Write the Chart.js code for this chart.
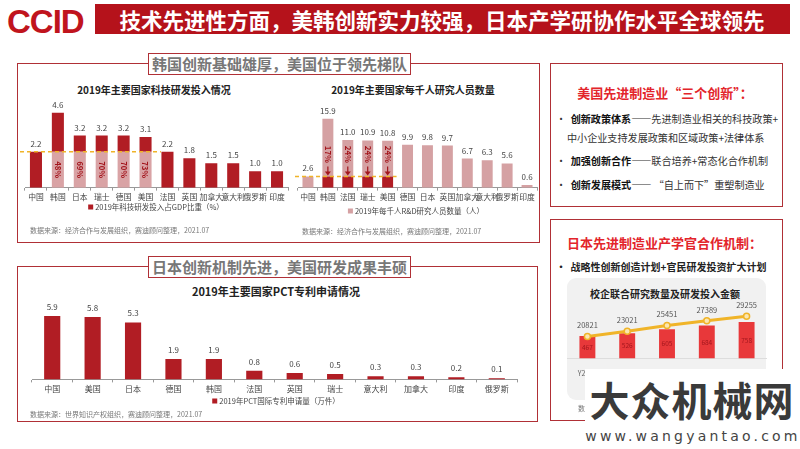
<!DOCTYPE html>
<html lang="zh">
<head>
<meta charset="UTF-8">
<title>技术先进性方面</title>
<script src="https://cdn.jsdelivr.net/npm/chart.js"></script>
<style>
  html, body { margin: 0; padding: 0; background: #fff; }
  body { width: 800px; height: 449px; position: relative; overflow: hidden;
         font-family: "Noto Sans CJK SC", "Noto Sans", sans-serif; color: #333; }
  .abs { position: absolute; white-space: nowrap; }
  .c { transform: translate(-50%, -50%); }
  .l { transform: translateY(-50%); }
  .panel { position: absolute; border: 1px solid #b03036; box-sizing: border-box; }
  .tag { position: absolute; border: 1px solid #b03036; background: #fff; color: #777;
         font-size: 15px; font-weight: bold; line-height: 20px; padding: 0 3px; white-space: nowrap; }
  .ctitle { font-size: 10px; font-weight: bold; color: #222; }
  .legend { font-size: 7.5px; color: #444; }
  .legend i { display: inline-block; width: 5px; height: 5px; margin-right: 2px; vertical-align: 0; }
  .src { font-size: 7px; color: #777; }
  .txt { font-size: 10.1px; color: #333; }
  .txt b { color: #111; }
  canvas { position: absolute; }
</style>
</head>
<body>
<div class="abs" style="left:7px;top:3px;font-family:'Liberation Sans',sans-serif;font-weight:bold;font-size:33px;color:#c0141d;letter-spacing:-1px;">CCID</div>
<div class="abs" style="left:95px;top:4px;width:695px;height:30px;background:#b5121b;"></div>
<div class="abs c" style="left:442px;top:19px;color:#fff;font-size:21.5px;font-weight:bold;">技术先进性方面，美韩创新实力较强，日本产学研协作水平全球领先</div>

<!-- upper left panel -->
<div class="panel" style="left:17px;top:63px;width:523px;height:180px;"></div>
<div class="tag" style="left:148px;top:53px;">韩国创新基础雄厚，美国位于领先梯队</div>
<div class="abs c ctitle" style="left:154px;top:89px;">2019年主要国家科技研发投入情况</div>
<div class="abs c ctitle" style="left:413px;top:89px;">2019年主要国家每千人研究人员数量</div>
<canvas id="rdChart" width="278" height="106" style="left:15px;top:98px;"></canvas>
<canvas id="resChart" width="250" height="103" style="left:290px;top:101px;"></canvas>
<div class="abs c legend" style="left:156px;top:206px;"><i style="background:#b11d24"></i>2019年科技研发投入占GDP比重（%）</div>
<div class="abs c legend" style="left:416px;top:210px;"><i style="background:#d5a1a3"></i>2019年每千人R&amp;D研究人员数量（人）</div>
<div class="abs l src" style="left:30px;top:230px;">数据来源：经济合作与发展组织，赛迪顾问整理，2021.07</div>
<div class="abs l src" style="left:302px;top:231px;">数据来源：经济合作与发展组织，赛迪顾问整理，2021.07</div>

<!-- lower left panel -->
<div class="panel" style="left:17px;top:266px;width:521px;height:156px;"></div>
<div class="tag" style="left:148px;top:256px;">日本创新机制先进，美国研发成果丰硕</div>
<div class="abs c ctitle" style="left:276px;top:291px;font-size:11px;">2019年主要国家PCT专利申请情况</div>
<canvas id="pctChart" width="505" height="94" style="left:20px;top:302px;"></canvas>
<div class="abs c legend" style="left:276px;top:400px;"><i style="background:#b11d24"></i>2019年PCT国际专利申请量（万件）</div>
<div class="abs l src" style="left:30px;top:414px;">数据来源：世界知识产权组织，赛迪顾问整理，2021.07</div>

<!-- right panels -->
<div class="panel" style="left:550px;top:63px;width:233px;height:144px;"></div>
<div class="abs c" style="left:665px;top:92px;color:#e3252b;font-size:13px;font-weight:bold;">美国先进制造业“三个创新”：</div>
<div class="abs l txt" style="left:556px;top:118px;">•&nbsp; <b>创新政策体系</b>——先进制造业相关的科技政策+</div>
<div class="abs l txt" style="left:567px;top:137px;">中小企业支持发展政策和区域政策+法律体系</div>
<div class="abs l txt" style="left:556px;top:160px;">•&nbsp; <b>加强创新合作</b>——联合培养+常态化合作机制</div>
<div class="abs l txt" style="left:556px;top:184px;">•&nbsp; <b>创新发展模式</b>—— “自上而下”重塑制造业</div>

<div class="panel" style="left:550px;top:219px;width:233px;height:202px;"></div>
<div class="abs l" style="left:567px;top:242px;color:#e3252b;font-size:13px;font-weight:bold;">日本先进制造业产学官合作机制：</div>
<div class="abs l" style="left:556px;top:266px;font-size:10px;font-weight:bold;color:#222;">•&nbsp; 战略性创新创造计划+官民研发投资扩大计划</div>
<div class="abs" style="left:567px;top:278px;width:199px;height:122px;background:#f1f1f1;border-radius:9px;"></div>
<div class="abs c" style="left:665px;top:293px;font-size:10px;font-weight:bold;color:#222;">校企联合研究数量及研发投入金额</div>
<canvas id="jpChart" width="210" height="80" style="left:562px;top:301px;"></canvas>
<div class="abs l src" style="left:578px;top:408px;">数据来源：日本文部科学省，赛迪顾问整理</div>

<!-- watermark -->
<div class="abs" style="left:585px;top:369px;width:215px;height:80px;background:#fff;"></div>
<div class="abs c" style="left:692px;top:399px;font-size:40px;font-weight:bold;color:#3a3a3a;letter-spacing:1px;">大众机械网</div>
<div class="abs c" style="left:693px;top:436px;font-size:14px;color:#444;letter-spacing:3.2px;font-family:'DejaVu Sans',sans-serif;">www.wangyantao.com</div>

<script>
// ---- data ----
const rdCountries = ['中国', '韩国', '日本', '瑞士', '德国', '美国', '法国', '英国', '加拿大', '意大利', '俄罗斯', '印度'];
const rdShare = [2.2, 4.6, 3.2, 3.2, 3.2, 3.1, 2.2, 1.8, 1.5, 1.5, 1.0, 1.0];
const rdCompareIdx = [1, 2, 3, 4, 5];
const rdCompareText = ['48%', '69%', '70%', '70%', '73%'];

const resCountries = ['中国', '韩国', '法国', '瑞士', '美国', '德国', '日本', '英国', '加拿大', '意大利', '俄罗斯', '印度'];
const resPerThousand = [2.6, 15.9, 11.0, 10.9, 10.8, 9.9, 9.8, 9.7, 6.7, 6.3, 5.6, 0.6];
const resCompareIdx = [1, 2, 3, 4];
const resCompareText = ['17%', '24%', '24%', '24%'];

const pctCountries = ['中国', '美国', '日本', '德国', '韩国', '法国', '英国', '瑞士', '意大利', '加拿大', '印度', '俄罗斯'];
const pctApps = [5.9, 5.8, 5.3, 1.9, 1.9, 0.8, 0.6, 0.5, 0.3, 0.3, 0.2, 0.1];

const jpYears = ['Y2015', 'Y2016', 'Y2017', 'Y2018', 'Y2019'];
const jpProjects = [20821, 23021, 25451, 27389, 29255];
const jpSpending = [467, 526, 605, 684, 758];

const DARK = '#b11d24', PINK1 = '#d9a3a5', PINK2 = '#d5a1a3', GOLD = '#f0b429';
const FONT = '"Noto Sans CJK SC", sans-serif';

function xAxis(labels, size) {
  return {
    stacked: true,
    grid: { drawOnChartArea: false, drawTicks: true, tickLength: 3, color: '#999' },
    border: { color: '#999' },
    ticks: { font: { size: size, family: FONT }, color: '#444', padding: 2, autoSkip: false, maxRotation: 0 }
  };
}

// value labels above each bar
function valueLabels(values, fmt, gap, font, color) {
  return {
    id: 'values',
    afterDatasetsDraw(chart) {
      const { ctx, scales } = chart;
      ctx.save();
      ctx.font = font; ctx.fillStyle = color;
      ctx.textAlign = 'center'; ctx.textBaseline = 'bottom';
      values.forEach((v, i) => {
        ctx.fillText(fmt(v), scales.x.getPixelForValue(i), scales.y.getPixelForValue(v) - gap);
      });
      ctx.restore();
    }
  };
}

// dashed reference line at the China level
function refLine(level, fromX, toIdx) {
  return {
    id: 'refLine',
    afterDatasetsDraw(chart) {
      const { ctx, scales: { x, y } } = chart;
      const py = y.getPixelForValue(level);
      ctx.save();
      ctx.strokeStyle = GOLD; ctx.lineWidth = 1.5; ctx.setLineDash([4, 3]);
      ctx.beginPath(); ctx.moveTo(fromX, py); ctx.lineTo(x.getPixelForValue(toIdx), py); ctx.stroke();
      ctx.restore();
    }
  };
}

function rotatedText(ctx, text, x, y, font, color) {
  ctx.save();
  ctx.translate(x, y); ctx.rotate(Math.PI / 2);
  ctx.font = font; ctx.fillStyle = color;
  ctx.textAlign = 'center'; ctx.textBaseline = 'middle';
  ctx.fillText(text, 0, 0);
  ctx.restore();
}

// ---- chart 1: R&D share of GDP ----
const rdBase = rdShare.map((v, i) => rdCompareIdx.includes(i) ? rdShare[0] : v);
const rdTop = rdShare.map((v, i) => rdCompareIdx.includes(i) ? v - rdShare[0] : 0);
new Chart(document.getElementById('rdChart'), {
  type: 'bar',
  data: {
    labels: rdCountries,
    datasets: [
      { data: rdBase, backgroundColor: rdShare.map((v, i) => rdCompareIdx.includes(i) ? PINK1 : DARK) },
      { data: rdTop, backgroundColor: DARK }
    ]
  },
  options: {
    responsive: false, animation: false,
    layout: { padding: { left: 10, right: 5 } },
    datasets: { bar: { categoryPercentage: 1, barPercentage: 0.55 } },
    plugins: { legend: { display: false }, tooltip: { enabled: false } },
    scales: { x: xAxis(rdCountries, 7.8), y: { display: false, stacked: true, min: 0, max: 5.5 } }
  },
  plugins: [
    valueLabels(rdShare, v => v.toFixed(1), 4, '8px ' + FONT, '#444'),
    refLine(rdShare[0], 5, 5.7),
    {
      id: 'ratio',
      afterDatasetsDraw(chart) {
        const { ctx, scales: { x, y } } = chart;
        rdCompareIdx.forEach((idx, k) => {
          rotatedText(ctx, rdCompareText[k], x.getPixelForValue(idx), y.getPixelForValue(rdShare[0] / 2),
            'bold 8px ' + FONT, '#a3161d');
        });
      }
    }
  ]
});

// ---- chart 2: researchers per thousand ----
const resBase = resPerThousand.map((v, i) => resCompareIdx.includes(i) ? resPerThousand[0] : v);
const resTop = resPerThousand.map((v, i) => resCompareIdx.includes(i) ? v - resPerThousand[0] : 0);
new Chart(document.getElementById('resChart'), {
  type: 'bar',
  data: {
    labels: resCountries,
    datasets: [
      { data: resBase, backgroundColor: resPerThousand.map((v, i) => resCompareIdx.includes(i) ? DARK : PINK2) },
      { data: resTop, backgroundColor: PINK2 }
    ]
  },
  options: {
    responsive: false, animation: false,
    layout: { padding: { left: 8, right: 3 } },
    datasets: { bar: { categoryPercentage: 1, barPercentage: 0.55 } },
    plugins: { legend: { display: false }, tooltip: { enabled: false } },
    scales: { x: xAxis(resCountries, 7.8), y: { display: false, stacked: true, min: 0, max: 20 } }
  },
  plugins: [
    valueLabels(resPerThousand, v => v.toFixed(1), 4, '8px ' + FONT, '#444'),
    refLine(resPerThousand[0], 5, 4.45),
    {
      id: 'ratio',
      afterDatasetsDraw(chart) {
        const { ctx, scales: { x, y } } = chart;
        resCompareIdx.forEach((idx, k) => {
          const px = x.getPixelForValue(idx);
          const segTop = y.getPixelForValue(resPerThousand[0]);
          rotatedText(ctx, resCompareText[k], px, segTop - 22, 'bold 8px ' + FONT, '#a3161d');
          ctx.save();
          ctx.strokeStyle = '#a3161d'; ctx.fillStyle = '#a3161d'; ctx.lineWidth = 1.2;
          ctx.beginPath(); ctx.moveTo(px, segTop - 10); ctx.lineTo(px, segTop - 4); ctx.stroke();
          ctx.beginPath(); ctx.moveTo(px - 3, segTop - 5); ctx.lineTo(px + 3, segTop - 5); ctx.lineTo(px, segTop - 1); ctx.closePath(); ctx.fill();
          ctx.restore();
        });
      }
    }
  ]
});

// ---- chart 3: PCT applications ----
new Chart(document.getElementById('pctChart'), {
  type: 'bar',
  data: { labels: pctCountries, datasets: [{ data: pctApps, backgroundColor: DARK }] },
  options: {
    responsive: false, animation: false,
    layout: { padding: { left: 12, right: 8 } },
    datasets: { bar: { categoryPercentage: 1, barPercentage: 0.4 } },
    plugins: { legend: { display: false }, tooltip: { enabled: false } },
    scales: { x: xAxis(pctCountries, 8), y: { display: false, min: 0, max: 7.2 } }
  },
  plugins: [valueLabels(pctApps, v => v.toFixed(1), 5, '8px ' + FONT, '#444')]
});

// ---- chart 4: Japan university-industry research ----
new Chart(document.getElementById('jpChart'), {
  data: {
    labels: jpYears,
    datasets: [
      { type: 'line', data: jpProjects, yAxisID: 'y2', order: 0, borderColor: GOLD, borderWidth: 3,
        pointRadius: 3, pointBackgroundColor: '#fbe6b0', pointBorderColor: GOLD, pointBorderWidth: 1.5 },
      { type: 'bar', data: jpSpending, yAxisID: 'y', order: 1, backgroundColor: '#e8383a',
        categoryPercentage: 1, barPercentage: 0.4 }
    ]
  },
  options: {
    responsive: false, animation: false,
    layout: { padding: { left: 4, right: 5 } },
    plugins: { legend: { display: false }, tooltip: { enabled: false } },
    scales: {
      x: { grid: { display: false }, border: { color: '#ddd' },
           ticks: { font: { size: 7, family: FONT }, color: '#666', padding: 3 } },
      y: { display: false, min: 0, max: 1078 },
      y2: { display: false, min: 11700, max: 33300 }
    }
  },
  plugins: [{
    id: 'jpLabels',
    afterDatasetsDraw(chart) {
      const { ctx, scales: { x, y, y2 } } = chart;
      ctx.save();
      ctx.textAlign = 'center'; ctx.textBaseline = 'middle';
      ctx.font = '7.5px ' + FONT; ctx.fillStyle = '#555';
      jpProjects.forEach((v, i) => ctx.fillText(String(v), x.getPixelForValue(i), y2.getPixelForValue(v) - 11));
      ctx.font = '6.5px ' + FONT; ctx.fillStyle = '#a3161d';
      jpSpending.forEach((v, i) => ctx.fillText(String(v), x.getPixelForValue(i), y.getPixelForValue(v / 2) ));
      ctx.restore();
    }
  }]
});
</script>
</body>
</html>
